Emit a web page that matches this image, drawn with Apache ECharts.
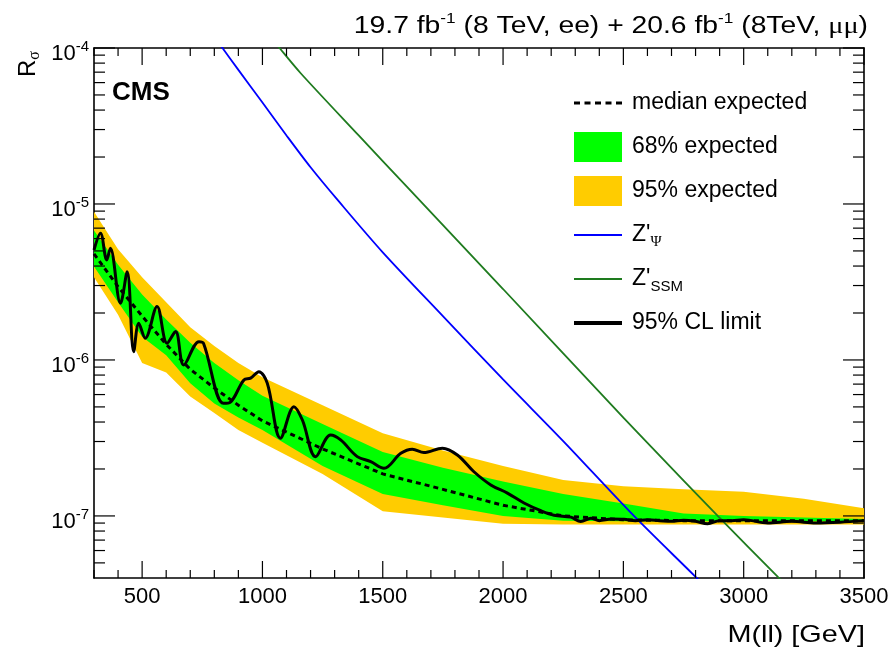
<!DOCTYPE html>
<html><head><meta charset="utf-8">
<script src="https://cdn.jsdelivr.net/npm/echarts@6/dist/echarts.min.js"></script>
<style>html,body{margin:0;padding:0;background:#fff}#c{width:893px;height:649px}</style>
</head><body><div id="c"></div>
<script>
// ---- data ----
const bandMass   = [300,400,500,600,700,800,900,1000,1250,1500,1750,2000,2250,2500,2750,3000,3250,3500];
const expMedian  = [4.79e-6,2.95e-6,1.91e-6,1.26e-6,8.71e-7,6.61e-7,5.13e-7,4.07e-7,2.69e-7,1.86e-7,1.48e-7,1.17e-7,1.00e-7,9.44e-8,9.33e-8,9.33e-8,9.33e-8,9.33e-8];
const exp68Low   = [3.98e-6,2.34e-6,1.41e-6,1.07e-6,7.08e-7,5.25e-7,4.27e-7,3.55e-7,2.09e-7,1.38e-7,1.17e-7,1.00e-7,9.33e-8,9.23e-8,9.23e-8,9.23e-8,9.23e-8,9.23e-8];
const exp68High  = [6.76e-6,4.07e-6,2.63e-6,1.82e-6,1.29e-6,9.55e-7,7.41e-7,5.89e-7,3.89e-7,2.57e-7,2.04e-7,1.66e-7,1.38e-7,1.20e-7,1.035e-7,1.00e-7,9.77e-8,9.55e-8];
const exp95Low   = [3.39e-6,1.95e-6,9.55e-7,8.32e-7,5.82e-7,4.57e-7,3.55e-7,2.95e-7,1.86e-7,1.07e-7,9.77e-8,8.91e-8,8.81e-8,8.81e-8,8.81e-8,8.81e-8,8.81e-8,8.81e-8];
const exp95High  = [8.91e-6,5.13e-6,3.39e-6,2.34e-6,1.62e-6,1.23e-6,9.55e-7,7.76e-7,5.13e-7,3.39e-7,2.63e-7,2.09e-7,1.70e-7,1.55e-7,1.48e-7,1.43e-7,1.29e-7,1.12e-7];

const obsMass  = [300,327,353,368,410,438,465,486,513,562,604,639,673,736,755,838,867,923,951,985,1020,1075,1131,1166,1221,1283,1325,1394,1450,1505,1575,1623,1671,1748,1810,1879,1949,2018,2087,2157,2212,2282,2323,2365,2400,2450,2503,2550,2600,2650,2700,2750,2800,2850,2900,2950,3000,3100,3200,3300,3400,3500];
const obsLimit = [5.07e-6,6.49e-6,4.38e-6,5.20e-6,2.31e-6,3.68e-6,1.13e-6,1.72e-6,1.38e-6,2.20e-6,1.28e-6,1.52e-6,9.29e-7,1.31e-6,1.28e-6,5.27e-7,5.37e-7,7.45e-7,7.64e-7,8.41e-7,7.10e-7,3.15e-7,5.02e-7,4.12e-7,2.40e-7,3.30e-7,3.07e-7,2.40e-7,2.23e-7,2.02e-7,2.52e-7,2.68e-7,2.55e-7,2.72e-7,2.46e-7,1.92e-7,1.58e-7,1.40e-7,1.21e-7,1.08e-7,1.01e-7,9.82e-8,9.20e-8,9.66e-8,9.33e-8,9.55e-8,9.51e-8,9.33e-8,9.44e-8,9.33e-8,9.23e-8,9.38e-8,9.23e-8,8.91e-8,9.33e-8,9.33e-8,9.44e-8,9.02e-8,9.23e-8,9.02e-8,9.12e-8,9.33e-8];

const zpsiMass = [800,834,900,1000,1100,1200,1315,1500,1750,2000,2250,2544,2800,2850];
const zpsiXsec = [1.18e-4,1.00e-4,7.24e-5,4.47e-5,2.75e-5,1.72e-5,1.05e-5,4.90e-6,1.91e-6,7.50e-7,3.02e-7,1.00e-7,4.07e-8,3.39e-8];
const zssmMass = [1040,1071,1159,1400,1600,2000,2500,2615,2892,3141,3200];
const zssmXsec = [1.15e-4,1.00e-4,6.89e-5,2.75e-5,1.29e-5,2.85e-6,4.27e-7,2.78e-7,1.00e-7,4.08e-8,3.31e-8];

const xMajorTicks = [500,1000,1500,2000,2500,3000,3500];
const xMinorTicks = [300,400,600,700,800,900,1100,1200,1300,1400,1600,1700,1800,1900,2100,2200,2300,2400,2600,2700,2800,2900,3100,3200,3300,3400];
const yMajorTicks = [1e-7,1e-6,1e-5,1e-4];
const yMinorTicks = [5e-8,6e-8,7e-8,8e-8,9e-8,2e-7,3e-7,4e-7,5e-7,6e-7,7e-7,8e-7,9e-7,2e-6,3e-6,4e-6,5e-6,6e-6,7e-6,8e-6,9e-6,2e-5,3e-5,4e-5,5e-5,6e-5,7e-5,8e-5,9e-5];
const xMin = 300, xMax = 3500, yMin = 4e-8, yMax = 1e-4;

// ---- chart ----
const FONT = 'Liberation Sans';
const black = '#000';
const pairs = (xs, ys) => xs.map((x, i) => [x, ys[i]]);
const lyMin = Math.log10(yMin), lyMax = Math.log10(yMax);

function bandSeries(name, lo, hi, color, z) {
  return {
    name, type: 'custom', z, silent: true, color, itemStyle: { color },
    xAxisIndex: 0, yAxisIndex: 0,
    data: bandMass.map((m, i) => [m, lo[i], hi[i]]),
    encode: { x: 0, y: [1, 2] },
    renderItem: (params, api) => {
      if (params.dataIndex !== 0) return null;
      const pts = [];
      for (let i = 0; i < bandMass.length; i++) pts.push(api.coord([bandMass[i], hi[i]]));
      for (let i = bandMass.length - 1; i >= 0; i--) pts.push(api.coord([bandMass[i], lo[i]]));
      return { type: 'polygon', shape: { points: pts }, style: { fill: color } };
    }
  };
}

function tickSeries(values, dir, len) {
  return {
    type: 'custom', silent: true, z: 8, xAxisIndex: 0, yAxisIndex: 0,
    data: values.map(v => dir === 'x' ? [v, yMin] : [xMin, v]),
    encode: { x: 0, y: 1 },
    renderItem: (params, api) => {
      const s = { stroke: black, lineWidth: 1.2 };
      if (dir === 'x') {
        const a = api.coord([api.value(0), yMin]), b = api.coord([api.value(0), yMax]);
        return { type: 'group', children: [
          { type: 'line', shape: { x1: a[0], y1: a[1], x2: a[0], y2: a[1] - len }, style: s },
          { type: 'line', shape: { x1: b[0], y1: b[1], x2: b[0], y2: b[1] + len }, style: s } ] };
      }
      const a = api.coord([xMin, api.value(1)]), b = api.coord([xMax, api.value(1)]);
      return { type: 'group', children: [
        { type: 'line', shape: { x1: a[0], y1: a[1], x2: a[0] + len, y2: a[1] }, style: s },
        { type: 'line', shape: { x1: b[0], y1: b[1], x2: b[0] - len, y2: b[1] }, style: s } ] };
    }
  };
}

const frameLine = { show: true, onZero: false, lineStyle: { color: black, width: 1.6 } };

const chart = echarts.init(document.getElementById('c'), null, { renderer: 'canvas' });
chart.setOption({
  animation: false,
  backgroundColor: '#fff',
  grid: { left: 94, right: 29, top: 48, bottom: 71, outerBoundsMode: 'none' },
  xAxis: [
    { type: 'value', min: xMin, max: xMax, position: 'bottom', axisLine: frameLine, axisTick: { show: false },
      axisLabel: { show: true, customValues: xMajorTicks, margin: 8, fontSize: 22, fontFamily: FONT, color: black,
        formatter: v => String(v) }, splitLine: { show: false } },
    { type: 'value', min: xMin, max: xMax, position: 'top', axisLine: frameLine, axisTick: { show: false },
      axisLabel: { show: false }, splitLine: { show: false } }
  ],
  yAxis: [
    { type: 'log', logBase: 10, min: yMin, max: yMax, position: 'left',
      axisLine: { show: false }, axisTick: { show: false }, axisLabel: { show: false }, splitLine: { show: false } },
    { type: 'value', min: lyMin, max: lyMax, position: 'left', axisLine: frameLine, axisTick: { show: false },
      axisLabel: { show: true, customValues: yMajorTicks.map(v => Math.log10(v)), margin: 5, color: black,
        padding: [12, 0, 0, 0],
        formatter: v => '{b|10}{s|' + Math.round(v) + '}',
        rich: {
          b: { fontSize: 22, fontFamily: FONT, color: black, lineHeight: 30 },
          s: { fontSize: 15, fontFamily: FONT, color: black, verticalAlign: 'top', lineHeight: 16 }
        } }, splitLine: { show: false } },
    { type: 'value', min: lyMin, max: lyMax, position: 'right', axisLine: frameLine, axisTick: { show: false },
      axisLabel: { show: false }, splitLine: { show: false } }
  ],
  legend: {
    orient: 'vertical', left: 572, top: 88, padding: 0, itemWidth: 48, itemHeight: 30, itemGap: 14,
    selectedMode: false,
    textStyle: {
      fontSize: 23, fontFamily: FONT, color: black, padding: [0, 0, 0, 5], lineHeight: 30,
      rich: {
        sub: { fontSize: 15, fontFamily: FONT, color: black, verticalAlign: 'bottom', lineHeight: 16 },
        psi: { fontSize: 15, fontFamily: 'Liberation Serif', color: black, verticalAlign: 'bottom', lineHeight: 16 }
      }
    },
    formatter: name => {
      if (name === "Z'Ψ") return "Z'{psi|Ψ}";
      if (name === "Z'SSM") return "Z'{sub|SSM}";
      return name;
    },
    data: [
      { name: 'median expected', itemStyle: { opacity: 0 }, lineStyle: { color: black, width: 3, type: [6, 4.5] } },
      { name: '68% expected', icon: 'rect', itemStyle: { color: '#00ff00', borderWidth: 0, opacity: 1 } },
      { name: '95% expected', icon: 'rect', itemStyle: { color: '#ffcc00', borderWidth: 0, opacity: 1 } },
      { name: "Z'Ψ", itemStyle: { opacity: 0 }, lineStyle: { color: '#0000ff', width: 2 } },
      { name: "Z'SSM", itemStyle: { opacity: 0 }, lineStyle: { color: '#1e7b1e', width: 2 } },
      { name: '95% CL limit', itemStyle: { opacity: 0 }, lineStyle: { color: black, width: 4 } }
    ]
  },
  series: [
    bandSeries('95% expected', exp95Low, exp95High, '#ffcc00', 1),
    bandSeries('68% expected', exp68Low, exp68High, '#00ff00', 2),
    { name: 'median expected', type: 'line', data: pairs(bandMass, expMedian), symbol: 'none', color: black,
      lineStyle: { color: black, width: 3, type: [5, 4] }, z: 3 },
    { name: "Z'Ψ", type: 'line', data: pairs(zpsiMass, zpsiXsec), symbol: 'none', smooth: 0.3, color: '#0000ff',
      lineStyle: { color: '#0000ff', width: 1.8 }, z: 4 },
    { name: "Z'SSM", type: 'line', data: pairs(zssmMass, zssmXsec), symbol: 'none', smooth: 0.3, color: '#1e7b1e',
      lineStyle: { color: '#1e7b1e', width: 1.8 }, z: 4 },
    { name: '95% CL limit', type: 'line', data: pairs(obsMass, obsLimit), symbol: 'none', smooth: 0.35, color: black,
      lineStyle: { color: black, width: 3, join: 'round' }, z: 5 },
    tickSeries(xMajorTicks, 'x', 17),
    tickSeries(xMinorTicks, 'x', 8),
    tickSeries(yMajorTicks, 'y', 21),
    tickSeries(yMinorTicks, 'y', 11)
  ],
  graphic: [
    { type: 'text', x: 868, y: 27, scaleX: 1.23, z: 100, silent: true,
      style: { text: '19.7 fb{sup|-1} (8 TeV, ee) + 20.6 fb{sup|-1} (8TeV, {mu|μμ})', align: 'right', verticalAlign: 'middle',
        fontSize: 23, fontFamily: FONT, fill: black, lineHeight: 30,
        rich: { sup: { fontSize: 14, fontFamily: FONT, fill: black, verticalAlign: 'top', lineHeight: 16 },
                mu: { fontSize: 23, fontFamily: 'Liberation Serif', fill: black, lineHeight: 30 } } } },
    { type: 'text', x: 112, y: 93, z: 100, silent: true,
      style: { text: 'CMS', fontSize: 26, fontWeight: 'bold', fontFamily: FONT, fill: black, verticalAlign: 'middle' } },
    { type: 'text', x: 865, y: 635, scaleX: 1.2, z: 100, silent: true,
      style: { text: 'M(ll) [GeV]', align: 'right', verticalAlign: 'middle', fontSize: 24, fontFamily: FONT, fill: black } },
    { type: 'text', x: 28, y: 64, rotation: Math.PI / 2, z: 100, silent: true,
      style: { text: 'R{s|σ}', align: 'center', verticalAlign: 'middle', fontSize: 24, fontFamily: FONT, fill: black, lineHeight: 30,
        rich: { s: { fontSize: 16, fontFamily: 'Liberation Serif', fill: black, verticalAlign: 'bottom', lineHeight: 16 } } } }
  ]
});
</script>
</body></html>
